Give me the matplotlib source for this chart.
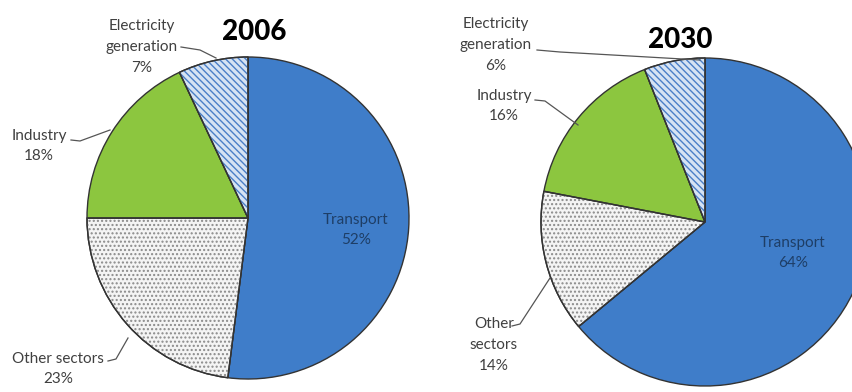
import matplotlib
matplotlib.use("Agg")
import matplotlib.pyplot as plt
from matplotlib.patches import Wedge

plt.rcParams['font.family'] = ['Lato', 'DejaVu Sans']
plt.rcParams['hatch.linewidth'] = 1.0

categories = ["Transport", "Other sectors", "Industry", "Electricity generation"]
values_2006 = [52, 23, 18, 7]
values_2030 = [64, 14, 16, 6]
years = ["2006", "2030"]

face_colors = ["#3f7dc9", "#f4f4f4", "#8cc63f", "#d6e3f3"]
hatches = [None, "....", None, "\\\\\\\\\\"]
hatch_colors = [None, "#8a8a8a", None, "#4a7fc7"]

fig = plt.figure(figsize=(8.52, 3.92), dpi=100)
ax = fig.add_axes([0, 0, 1, 1])
ax.axis('off')


def Y(y):
    return 392 - y


def draw_pie(vals, center, radius):
    wedges, _ = ax.pie(vals, colors=face_colors, startangle=90, counterclock=False,
                       center=center, radius=radius, frame=True,
                       wedgeprops=dict(edgecolor="#333333", linewidth=1.0))
    for w, h, hc in zip(wedges, hatches, hatch_colors):
        if h:
            ax.add_patch(Wedge(w.center, w.r, w.theta1, w.theta2, facecolor='none',
                               edgecolor=hc, linewidth=0, hatch=h,
                               zorder=w.get_zorder() + 0.1))
            ax.add_patch(Wedge(w.center, w.r, w.theta1, w.theta2, facecolor='none',
                               edgecolor="#333333", linewidth=1.0,
                               zorder=w.get_zorder() + 0.2))
    return wedges


draw_pie(values_2006, (248, Y(218)), 161)
draw_pie(values_2030, (705, Y(222)), 164)

ax.set_xlim(0, 852)
ax.set_ylim(0, 392)
ax.set_aspect('equal')
ax.axis('off')

fs = 11
tc = "#404040"


def label(x, y, s, color=tc, size=fs):
    ax.text(x, Y(y), s, ha='center', va='center', fontsize=size, color=color,
            linespacing=1.6, zorder=10)


def leader(pts):
    xs = [p[0] for p in pts]
    ys = [Y(p[1]) for p in pts]
    ax.plot(xs, ys, color="#555555", lw=0.9, zorder=9)


# Titles
ax.text(254, Y(32), years[0], ha='center', va='center', fontsize=20,
        fontweight='black', color='black')
ax.text(680, Y(40), years[1], ha='center', va='center', fontsize=20,
        fontweight='black', color='black')

# 2006 labels
label(142, 47, "Electricity\ngeneration\n%d%%" % values_2006[3])
leader([(181, 47), (200, 50), (216, 58)])
label(39, 146, "Industry\n%d%%" % values_2006[2])
leader([(71, 140), (80, 141), (110, 130)])
label(58, 369, "Other sectors\n%d%%" % values_2006[1])
leader([(108, 361), (116, 359), (128, 338)])
label(356, 230, "Transport\n%d%%" % values_2006[0], color="#1e3e66")

# 2030 labels
label(496, 45, "Electricity\ngeneration\n%d%%" % values_2030[3])
leader([(537, 50), (560, 52), (700, 60)])
label(504, 106, "Industry\n%d%%" % values_2030[2])
leader([(535, 100), (545, 101), (578, 125)])
label(494, 345, "Other\nsectors\n%d%%" % values_2030[1])
leader([(512, 326), (520, 324), (550, 278)])
label(793, 253, "Transport\n%d%%" % values_2030[0], color="#1e3e66")

fig.savefig("out.png", dpi=100)
